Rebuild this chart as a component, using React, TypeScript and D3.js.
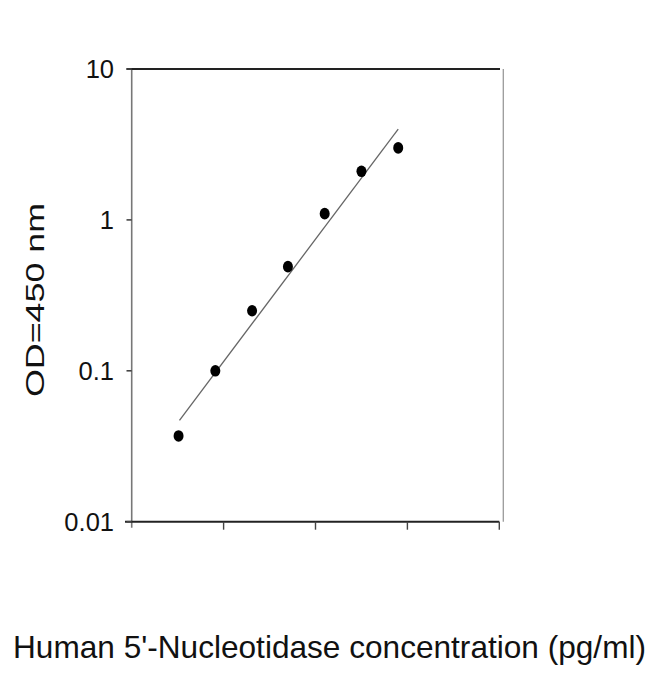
import React from "react";
import * as d3 from "d3";

const concentration = [0.51, 0.91, 1.31, 1.7, 2.1, 2.5, 2.9];
const od450 = [0.037, 0.1, 0.25, 0.49, 1.1, 2.1, 3.0];
const fitX = [0.52, 2.9];
const fitY = [0.047, 4.0];
const yTicks = [0.01, 0.1, 1, 10];
const yTickLabels = ["0.01", "0.1", "1", "10"];
const xTicks = [1, 2, 3, 4];
const xTitle = "Human 5'-Nucleotidase concentration (pg/ml)";
const yTitle = "OD=450 nm";

export default function App() {
  const W = 650;
  const H = 674;
  const left = 131.7;
  const right = 499.3;
  const top = 69;
  const bottom = 521.7;
  const x = d3.scaleLinear().domain([0, 4]).range([left, right]);
  const y = d3.scaleLog().domain([0.01, 10]).range([bottom, top]);
  const line = d3
    .line<number>()
    .x((_, i) => x(fitX[i]))
    .y((d) => y(d));
  const font = "'Liberation Sans', Arial, sans-serif";
  return (
    <svg
      width={W}
      height={H}
      style={{ position: "absolute", left: 0, top: 0, background: "#fff" }}
    >
      {/* right border */}
      <line x1={503.3} x2={503.3} y1={top} y2={bottom} stroke="#9a9a9a" strokeWidth={1.3} />
      {/* left axis */}
      <line x1={left} x2={left} y1={top} y2={bottom + 6} stroke="#777" strokeWidth={1.6} />
      {/* top border */}
      <line x1={126.5} x2={500} y1={top} y2={top} stroke="#222" strokeWidth={2} />
      {/* bottom axis */}
      <line x1={125} x2={right} y1={bottom} y2={bottom} stroke="#222" strokeWidth={2} />
      {xTicks.map((t) => (
        <line key={t} x1={x(t)} x2={x(t)} y1={bottom} y2={bottom + 8} stroke="#444" strokeWidth={1.4} />
      ))}
      {yTicks.map((t, i) => (
        <g key={t}>
          <line x1={126.5} x2={left} y1={y(t)} y2={y(t)} stroke="#444" strokeWidth={1.6} />
          <text
            x={114}
            y={y(t)}
            dy="0.36em"
            textAnchor="end"
            fontFamily={font}
            fontSize={25.5}
            fill="#111"
          >
            {yTickLabels[i]}
          </text>
        </g>
      ))}
      <path d={line(fitY) || ""} fill="none" stroke="#666" strokeWidth={1.3} />
      {concentration.map((c, i) => (
        <ellipse key={i} cx={x(c)} cy={y(od450[i])} rx={5} ry={5.8} fill="#000" />
      ))}
      <text
        transform="translate(43.5,300) rotate(-90)"
        textAnchor="middle"
        fontFamily={font}
        fontSize={26}
        textLength={194}
        lengthAdjust="spacingAndGlyphs"
        fill="#111"
      >
        {yTitle}
      </text>
      <text
        x={329.5}
        y={658}
        textAnchor="middle"
        fontFamily={font}
        fontSize={31.5}
        textLength={633}
        lengthAdjust="spacingAndGlyphs"
        fill="#111"
      >
        {xTitle}
      </text>
    </svg>
  );
}
